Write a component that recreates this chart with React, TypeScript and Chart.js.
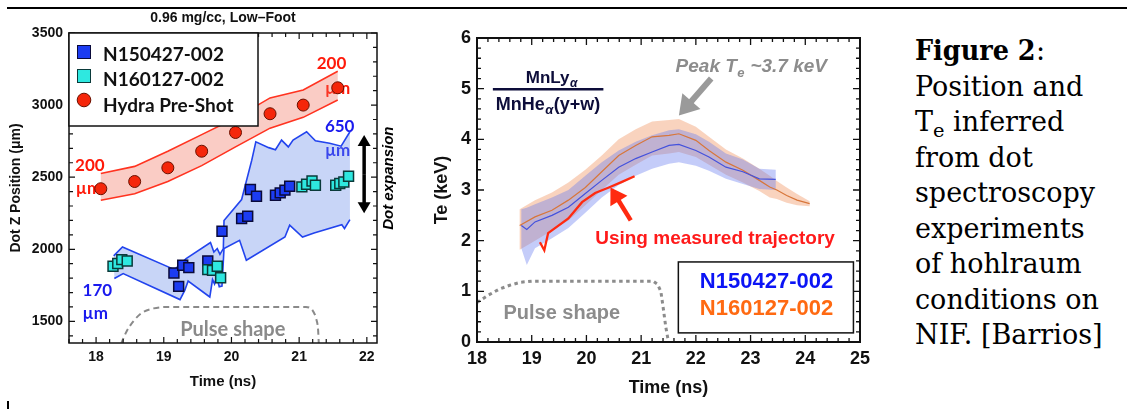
import React, { useEffect, useLayoutEffect, useRef } from "react";
import { Chart, registerables } from "chart.js";

Chart.register(...registerables);

const SANS = "'Liberation Sans', Arial, Helvetica, sans-serif";
const LATO = "Lato, 'Liberation Sans', sans-serif";
const INK = "#111111";

// ================= Left panel: Dot Z position vs time =================
const leftTimeTicks = [18, 19, 20, 21, 22];
const leftPosTicks = [1500, 2000, 2500, 3000, 3500];

// Hydra pre-shot prediction (red circles) with its band
const hydraTime = [18.07, 18.57, 19.06, 19.56, 20.06, 20.57, 21.06, 21.57];
const hydraPos = [2420, 2470, 2565, 2680, 2810, 2940, 3000, 3120];
const hydraUpper = [2525, 2575, 2680, 2795, 2910, 3050, 3105, 3235];
const hydraLower = [2340, 2385, 2470, 2580, 2710, 2840, 2915, 3035];

// N150427-002 (blue squares)
const shot150Time = [19.15, 19.22, 19.28, 19.37, 19.65, 19.86, 20.15, 20.24, 20.28, 20.37, 20.65, 20.72, 20.79, 20.86];
const shot150Pos = [1836, 1743, 1889, 1873, 1919, 2125, 2213, 2229, 2415, 2368, 2375, 2391, 2410, 2437];

// N160127-002 (cyan squares)
const shot160Time = [18.25, 18.32, 18.38, 18.46, 19.65, 19.72, 19.79, 19.84, 21.04, 21.11, 21.19, 21.24, 21.54, 21.6, 21.66, 21.73];
const shot160Pos = [1882, 1901, 1928, 1919, 1859, 1854, 1882, 1803, 2433, 2451, 2474, 2444, 2444, 2456, 2467, 2507];

// Measured envelope (blue band, 170 µm -> 650 µm)
const envUpperTime = [18.26, 18.39, 19.16, 19.33, 19.69, 19.74, 19.79, 19.83, 19.88, 19.89, 20.15, 20.3, 20.36, 20.55, 20.65, 20.74, 20.84, 20.91, 21.11, 21.24, 21.45, 21.62, 21.75];
const envUpperPos = [1954, 2016, 1859, 1935, 2047, 1981, 2005, 1965, 2005, 2200, 2345, 2618, 2745, 2705, 2690, 2757, 2710, 2757, 2815, 2752, 2735, 2715, 2815];
const envLowerTime = [18.27, 18.4, 19.24, 19.31, 19.36, 19.68, 19.72, 19.75, 19.78, 19.82, 19.86, 19.89, 20.12, 20.22, 20.79, 20.86, 21.05, 21.22, 21.63, 21.67, 21.75];
const envLowerPos = [1797, 1831, 1651, 1715, 1780, 1669, 1790, 1760, 1808, 1740, 1745, 2005, 2062, 1924, 2085, 2167, 2085, 2113, 2170, 2144, 2206];

// Laser pulse shape sketch (left)
const pulseLeftTime = [18.37, 18.45, 18.55, 18.68, 18.85, 19.05, 21.1, 21.2, 21.25, 21.28, 21.29];
const pulseLeftPos = [1345, 1430, 1500, 1560, 1590, 1600, 1600, 1575, 1520, 1440, 1345];

// ================= Right panel: Te vs time =================
const rightTimeTicks = [18, 19, 20, 21, 22, 23, 24, 25];
const rightTeTicks = [0, 1, 2, 3, 4, 5, 6];

const n150Time = [18.81, 18.91, 19.06, 19.37, 19.67, 19.98, 20.28, 20.59, 20.9, 21.2, 21.51, 21.69, 22.0, 22.24, 22.55, 22.86, 23.16, 23.46];
const n150Te = [2.3, 2.22, 2.37, 2.5, 2.66, 2.93, 3.19, 3.45, 3.62, 3.75, 3.88, 3.9, 3.78, 3.65, 3.45, 3.36, 3.22, 3.21];
const n150Lo = [1.85, 1.52, 1.85, 2.05, 2.25, 2.55, 2.85, 3.1, 3.28, 3.42, 3.52, 3.55, 3.48, 3.38, 3.22, 3.12, 3.02, 3.0];
const n150Hi = [2.62, 2.65, 2.72, 2.85, 3.0, 3.28, 3.55, 3.78, 3.95, 4.08, 4.18, 4.2, 4.1, 3.95, 3.72, 3.6, 3.42, 3.4];

const n160Time = [18.78, 19.06, 19.37, 19.67, 19.98, 20.28, 20.59, 20.9, 21.2, 21.51, 21.69, 22.0, 22.24, 22.55, 22.86, 23.16, 23.35, 23.48, 23.66, 23.85, 24.08];
const n160Te = [2.3, 2.47, 2.6, 2.8, 3.05, 3.36, 3.68, 3.88, 4.05, 4.08, 4.11, 3.98, 3.78, 3.55, 3.39, 3.19, 3.06, 3.0, 2.89, 2.8, 2.73];
const n160Lo = [1.82, 2.0, 2.2, 2.4, 2.7, 3.0, 3.3, 3.5, 3.68, 3.72, 3.75, 3.65, 3.5, 3.3, 3.15, 2.98, 2.85, 2.82, 2.75, 2.7, 2.68];
const n160Hi = [2.62, 2.8, 2.95, 3.15, 3.4, 3.68, 4.0, 4.2, 4.35, 4.38, 4.4, 4.25, 4.05, 3.8, 3.62, 3.42, 3.28, 3.18, 3.05, 2.92, 2.78];

// Te using measured trajectory (red)
const trajTime = [19.15, 19.23, 19.3, 19.67, 19.92, 20.16, 20.41, 20.65, 20.88];
const trajTe = [1.97, 1.81, 2.15, 2.44, 2.76, 2.94, 3.05, 3.16, 3.27];

// Laser pulse shape sketch (right)
const pulseRightTime = [18.0, 18.2, 18.4, 18.6, 18.8, 19.0, 21.22, 21.3, 21.36, 21.4, 21.45, 21.5];
const pulseRightTe = [0.78, 0.92, 1.04, 1.12, 1.18, 1.2, 1.2, 1.14, 1.0, 0.7, 0.3, 0.0];

// ================= helpers =================
const pts = (xs: number[], ys: number[]) => xs.map((x, i) => ({ x, y: ys[i] }));
const polygon = (ux: number[], uy: number[], lx: number[], ly: number[]) => [
  ...pts(ux, uy),
  ...pts(lx, ly).reverse(),
];

function arrow(ctx: CanvasRenderingContext2D, x1: number, y1: number, x2: number, y2: number, w: number, headLen: number, headW: number, color: string) {
  const dx = x2 - x1, dy = y2 - y1;
  const L = Math.hypot(dx, dy);
  const ux = dx / L, uy = dy / L;
  const bx = x2 - ux * headLen, by = y2 - uy * headLen;
  ctx.strokeStyle = color;
  ctx.fillStyle = color;
  ctx.lineWidth = w;
  ctx.lineCap = "butt";
  ctx.beginPath();
  ctx.moveTo(x1, y1);
  ctx.lineTo(bx + ux, by + uy);
  ctx.stroke();
  ctx.beginPath();
  ctx.moveTo(x2, y2);
  ctx.lineTo(bx - (uy * headW) / 2, by + (ux * headW) / 2);
  ctx.lineTo(bx + (uy * headW) / 2, by - (ux * headW) / 2);
  ctx.closePath();
  ctx.fill();
}

function subText(ctx: CanvasRenderingContext2D, main: string, sub: string, after: string, x: number, yBase: number, size: number, style: string, family: string, align: "left" | "center") {
  const mainFont = `${style} ${size}px ${family}`;
  const subFont = `italic bold ${Math.round(size * 0.7)}px ${family}`;
  ctx.font = mainFont;
  const w1 = ctx.measureText(main).width;
  const w3 = ctx.measureText(after).width;
  ctx.font = subFont;
  const w2 = ctx.measureText(sub).width;
  const sx = align === "center" ? x - (w1 + w2 + w3) / 2 : x;
  ctx.textAlign = "left";
  ctx.textBaseline = "alphabetic";
  ctx.font = mainFont;
  ctx.fillText(main, sx, yBase);
  ctx.font = subFont;
  ctx.fillText(sub, sx + w1 + 0.5, yBase + size * 0.22);
  ctx.font = mainFont;
  ctx.fillText(after, sx + w1 + w2 + 1, yBase);
}

function makeFramePlugin(o: { xStep: number; yStep: number; xMajor: number[]; yMajor: number[]; major: number; minor: number; tickWidth: number; frameWidth: number }) {
  return {
    id: "frameTicks",
    afterDatasetsDraw(chart: any) {
      const { ctx, chartArea: a, scales } = chart;
      const x = scales.x, y = scales.y;
      const isMaj = (list: number[], v: number) => list.some((m) => Math.abs(m - v) < 1e-6);
      ctx.save();
      ctx.strokeStyle = INK;
      ctx.lineWidth = o.tickWidth;
      ctx.beginPath();
      for (let k = Math.ceil(x.min / o.xStep - 1e-6); k * o.xStep <= x.max + 1e-6; k++) {
        const v = k * o.xStep;
        const px = x.getPixelForValue(v);
        const len = isMaj(o.xMajor, v) ? o.major : o.minor;
        ctx.moveTo(px, a.bottom);
        ctx.lineTo(px, a.bottom - len);
        ctx.moveTo(px, a.top);
        ctx.lineTo(px, a.top + len);
      }
      for (let k = Math.ceil(y.min / o.yStep - 1e-6); k * o.yStep <= y.max + 1e-6; k++) {
        const v = k * o.yStep;
        const py = y.getPixelForValue(v);
        const len = isMaj(o.yMajor, v) ? o.major : o.minor;
        ctx.moveTo(a.left, py);
        ctx.lineTo(a.left + len, py);
        ctx.moveTo(a.right, py);
        ctx.lineTo(a.right - len, py);
      }
      ctx.stroke();
      ctx.lineWidth = o.frameWidth;
      ctx.strokeRect(a.left, a.top, a.right - a.left, a.bottom - a.top);
      ctx.restore();
    },
  };
}

// annotation anchors in data coordinates
const redUnitLabels = [
  { text: "200", t: 17.69, v: 2578 },
  { text: "\u00b5m", t: 17.7, v: 2424 },
  { text: "200", t: 21.26, v: 3290 },
  { text: "\u00b5m", t: 21.38, v: 3116 },
];
const blueUnitLabels = [
  { text: "650", t: 21.38, v: 2849 },
  { text: "\u00b5m", t: 21.38, v: 2687 },
  { text: "170", t: 17.8, v: 1715 },
  { text: "\u00b5m", t: 17.8, v: 1553 },
];

const leftAnnotations = {
  id: "leftAnnotations",
  beforeDatasetsDraw(chart: any) {
    const { ctx, scales } = chart;
    const x = scales.x, y = scales.y;
    ctx.save();
    ctx.font = `bold 17px ${LATO}`;
    ctx.textAlign = "left";
    ctx.textBaseline = "middle";
    ctx.fillStyle = "#ff1a0a";
    for (const l of redUnitLabels) ctx.fillText(l.text, x.getPixelForValue(l.t), y.getPixelForValue(l.v));
    ctx.fillStyle = "#1a1aee";
    for (const l of blueUnitLabels) ctx.fillText(l.text, x.getPixelForValue(l.t), y.getPixelForValue(l.v));
    ctx.fillStyle = "#8a8a8a";
    ctx.textAlign = "center";
    ctx.font = `bold 20px ${LATO}`;
    ctx.fillText("Pulse shape", x.getPixelForValue(20.02), y.getPixelForValue(1444));
    ctx.restore();
  },
  afterDraw(chart: any) {
    const { ctx, chartArea: a, scales } = chart;
    const x = scales.x, y = scales.y;
    ctx.save();
    // title
    ctx.fillStyle = INK;
    ctx.font = `bold 14px ${SANS}`;
    ctx.textAlign = "center";
    ctx.textBaseline = "middle";
    ctx.fillText("0.96 mg/cc, Low\u2013Foot", (a.left + a.right) / 2, a.top - 15);
    // legend
    const lx = a.left, ly = a.top;
    ctx.fillStyle = "#ffffff";
    ctx.fillRect(lx, ly, 189, 93);
    ctx.strokeStyle = INK;
    ctx.lineWidth = 1.5;
    ctx.strokeRect(lx, ly, 189, 93);
    ctx.lineWidth = 1;
    ctx.fillStyle = "#1c3cf2";
    ctx.strokeStyle = "#0a0a3a";
    ctx.fillRect(lx + 8.5, ly + 12.5, 13, 13);
    ctx.strokeRect(lx + 8.5, ly + 12.5, 13, 13);
    ctx.fillStyle = "#2ee8e0";
    ctx.strokeStyle = "#0a3a3a";
    ctx.fillRect(lx + 8.5, ly + 36.5, 13, 13);
    ctx.strokeRect(lx + 8.5, ly + 36.5, 13, 13);
    ctx.fillStyle = "#f5260a";
    ctx.strokeStyle = "#6a1000";
    ctx.beginPath();
    ctx.arc(lx + 15, ly + 67, 6.8, 0, Math.PI * 2);
    ctx.fill();
    ctx.stroke();
    ctx.fillStyle = INK;
    ctx.font = `bold 19px ${LATO}`;
    ctx.textAlign = "left";
    ctx.textBaseline = "middle";
    ctx.fillText("N150427-002", lx + 34, ly + 22);
    ctx.fillText("N160127-002", lx + 34, ly + 47);
    ctx.fillText("Hydra Pre-Shot", lx + 34, ly + 73);
    // double arrow (dot expansion)
    const ax = x.getPixelForValue(21.96);
    const ay1 = y.getPixelForValue(2792);
    const ay2 = y.getPixelForValue(2250);
    const my = (ay1 + ay2) / 2;
    arrow(ctx, ax, my, ax, ay1, 3.5, 11, 13, "#000000");
    arrow(ctx, ax, my, ax, ay2, 3.5, 11, 13, "#000000");
    // Dot expansion label
    ctx.save();
    ctx.translate(x.getPixelForValue(22.32), y.getPixelForValue(2493));
    ctx.rotate(-Math.PI / 2);
    ctx.fillStyle = "#000000";
    ctx.font = `italic bold 15px ${SANS}`;
    ctx.textAlign = "center";
    ctx.textBaseline = "middle";
    ctx.fillText("Dot expansion", 0, 0);
    ctx.restore();
    ctx.restore();
  },
};

const rightAnnotations = {
  id: "rightAnnotations",
  afterDraw(chart: any) {
    const { ctx, scales } = chart;
    const x = scales.x, y = scales.y;
    ctx.save();
    // ratio label (baselines given in Te units)
    ctx.fillStyle = "#0d0d3a";
    subText(ctx, "MnLy", "\u03b1", "", x.getPixelForValue(19.36), y.getPixelForValue(5.11), 17, "bold", SANS, "center");
    ctx.strokeStyle = "#0d0d3a";
    ctx.lineWidth = 2.5;
    ctx.beginPath();
    ctx.moveTo(x.getPixelForValue(18.29), y.getPixelForValue(4.99));
    ctx.lineTo(x.getPixelForValue(20.31), y.getPixelForValue(4.99));
    ctx.stroke();
    subText(ctx, "MnHe", "\u03b1", "(y+w)", x.getPixelForValue(19.29), y.getPixelForValue(4.57), 18, "bold", SANS, "center");
    // peak label + arrow
    ctx.fillStyle = "#8c8c8c";
    subText(ctx, "Peak T", "e", " ~3.7 keV", x.getPixelForValue(21.63), y.getPixelForValue(5.46) + 7, 19, "italic bold", SANS, "left");
    arrow(ctx, x.getPixelForValue(22.28), y.getPixelForValue(5.2), x.getPixelForValue(21.69), y.getPixelForValue(4.47), 6, 19, 24, "#9a9a9a");
    // red arrow + label
    arrow(ctx, x.getPixelForValue(20.81), y.getPixelForValue(2.4), x.getPixelForValue(20.44), y.getPixelForValue(3.05), 4.5, 16, 20, "#ff2a10");
    ctx.fillStyle = "#ff1a1a";
    ctx.font = `bold 19px ${SANS}`;
    ctx.textAlign = "left";
    ctx.textBaseline = "middle";
    ctx.fillText("Using measured trajectory", x.getPixelForValue(20.16), y.getPixelForValue(2.04));
    // pulse shape label
    ctx.fillStyle = "#8c8c8c";
    ctx.font = `bold 20px ${SANS}`;
    ctx.textAlign = "center";
    ctx.fillText("Pulse shape", x.getPixelForValue(19.55), y.getPixelForValue(0.56));
    // legend box
    const bx1 = x.getPixelForValue(21.68), by1 = y.getPixelForValue(1.58);
    const bx2 = x.getPixelForValue(24.88), by2 = y.getPixelForValue(0.18);
    ctx.fillStyle = "#ffffff";
    ctx.fillRect(bx1, by1, bx2 - bx1, by2 - by1);
    ctx.strokeStyle = INK;
    ctx.lineWidth = 1.5;
    ctx.strokeRect(bx1, by1, bx2 - bx1, by2 - by1);
    ctx.font = `bold 22px ${SANS}`;
    ctx.textAlign = "right";
    ctx.fillStyle = "#0b14f5";
    ctx.fillText("N150427-002", x.getPixelForValue(24.51), y.getPixelForValue(1.18));
    ctx.fillStyle = "#ff6a12";
    ctx.fillText("N160127-002", x.getPixelForValue(24.51), y.getPixelForValue(0.66));
    ctx.restore();
  },
};

const lineDs = (data: any[], color: string, width: number, order: number, extra: any = {}) => ({
  data,
  showLine: true,
  borderColor: color,
  borderWidth: width,
  pointRadius: 0,
  fill: false,
  order,
  ...extra,
});

const bandDs = (data: any[], color: string, order: number) => ({
  data,
  showLine: true,
  borderColor: "rgba(0,0,0,0)",
  borderWidth: 1,
  backgroundColor: color,
  pointRadius: 0,
  fill: "shape",
  order,
});

function axisCommon(fontSize: number) {
  return {
    type: "linear" as const,
    grid: { display: false, drawTicks: false },
    border: { display: false },
    ticks: {
      padding: 6,
      color: INK,
      font: { family: SANS, size: fontSize, weight: "bold" as const },
      callback: (v: any) => String(v),
    },
  };
}

function leftConfig(): any {
  return {
    type: "scatter",
    data: {
      datasets: [
        bandDs(polygon(hydraTime, hydraUpper, hydraTime, hydraLower), "rgba(240,110,90,0.35)", 20),
        bandDs(polygon(envUpperTime, envUpperPos, envLowerTime, envLowerPos), "rgba(110,145,235,0.38)", 19),
        lineDs(pts(hydraTime, hydraUpper), "#ff3320", 1.6, 10),
        lineDs(pts(hydraTime, hydraLower), "#ff3320", 1.6, 10),
        lineDs(pts(envUpperTime, envUpperPos), "#2244ee", 1.6, 10),
        lineDs(pts(envLowerTime, envLowerPos), "#2244ee", 1.6, 10),
        lineDs(pts(pulseLeftTime, pulseLeftPos), "#8a8a8a", 2, 11, { borderDash: [6, 4], cubicInterpolationMode: "monotone" }),
        {
          data: pts(shot150Time, shot150Pos),
          pointStyle: "rect",
          pointRadius: 7,
          backgroundColor: "#1c3cf2",
          borderColor: "#0a0a3a",
          borderWidth: 1.5,
          order: 3,
        },
        {
          data: pts(shot160Time, shot160Pos),
          pointStyle: "rect",
          pointRadius: 7,
          backgroundColor: "#2ee8e0",
          borderColor: "#0a3a3a",
          borderWidth: 1.5,
          order: 2,
        },
        {
          data: pts(hydraTime, hydraPos),
          pointStyle: "circle",
          pointRadius: 6,
          backgroundColor: "#f5260a",
          borderColor: "#6a1000",
          borderWidth: 1,
          order: 1,
        },
      ],
    },
    options: {
      responsive: false,
      animation: false,
      events: [],
      layout: { padding: { left: 0, top: 33, right: 23, bottom: 0 } },
      plugins: { legend: { display: false }, tooltip: { enabled: false } },
      scales: {
        x: {
          ...axisCommon(14),
          min: 17.6,
          max: 22.15,
          afterBuildTicks: (s: any) => {
            s.ticks = leftTimeTicks.map((v) => ({ value: v }));
          },
          afterFit: (s: any) => {
            s.height = 66;
          },
          title: { display: true, text: "Time (ns)", color: INK, font: { family: SANS, size: 15, weight: "bold" }, padding: { top: 0, bottom: 18 } },
        },
        y: {
          ...axisCommon(14),
          min: 1350,
          max: 3500,
          afterBuildTicks: (s: any) => {
            s.ticks = leftPosTicks.map((v) => ({ value: v }));
          },
          afterFit: (s: any) => {
            s.width = 69;
          },
          title: { display: true, text: "Dot Z Position (\u03bcm)", color: INK, font: { family: SANS, size: 14, weight: "bold" }, padding: { top: 8, bottom: 0 } },
        },
      },
    },
    plugins: [
      makeFramePlugin({ xStep: 0.2, yStep: 100, xMajor: leftTimeTicks, yMajor: leftPosTicks, major: 6, minor: 4, tickWidth: 1.2, frameWidth: 1.5 }),
      leftAnnotations,
    ],
  };
}

function rightConfig(): any {
  return {
    type: "scatter",
    data: {
      datasets: [
        bandDs(polygon(n160Time, n160Hi, n160Time, n160Lo), "rgba(240,150,100,0.42)", 21),
        bandDs(polygon(n150Time, n150Hi, n150Time, n150Lo), "rgba(100,120,240,0.38)", 20),
        lineDs(pts(n160Time, n160Te), "#d8763a", 1.2, 10),
        lineDs(pts(n150Time, n150Te), "#4452dd", 1.2, 9),
        lineDs(pts(trajTime, trajTe), "#ff2a10", 2.3, 5),
        lineDs(pts(pulseRightTime, pulseRightTe), "#8c8c8c", 3, 12, { borderDash: [3.5, 3.5] }),
      ],
    },
    options: {
      responsive: false,
      animation: false,
      events: [],
      layout: { padding: { left: 0, top: 38, right: 20, bottom: 0 } },
      plugins: { legend: { display: false }, tooltip: { enabled: false } },
      scales: {
        x: {
          ...axisCommon(18),
          min: 18,
          max: 25,
          afterBuildTicks: (s: any) => {
            s.ticks = rightTimeTicks.map((v) => ({ value: v }));
          },
          afterFit: (s: any) => {
            s.height = 67;
          },
          title: { display: true, text: "Time (ns)", color: INK, font: { family: SANS, size: 18, weight: "bold" }, padding: { top: 0, bottom: 10 } },
        },
        y: {
          ...axisCommon(18),
          min: 0,
          max: 6,
          afterBuildTicks: (s: any) => {
            s.ticks = rightTeTicks.map((v) => ({ value: v }));
          },
          afterFit: (s: any) => {
            s.width = 77;
          },
          title: { display: true, text: "Te (keV)", color: INK, font: { family: SANS, size: 18, weight: "bold" }, padding: { top: 31, bottom: 0 } },
        },
      },
    },
    plugins: [
      makeFramePlugin({ xStep: 0.2, yStep: 0.2, xMajor: rightTimeTicks, yMajor: rightTeTicks, major: 7, minor: 4, tickWidth: 1.3, frameWidth: 2 }),
      rightAnnotations,
    ],
  };
}

function ChartCanvas({ build, left, width }: { build: () => any; left: number; width: number }) {
  const ref = useRef<HTMLCanvasElement | null>(null);
  useEffect(() => {
    if (!ref.current) return;
    const chart = new Chart(ref.current, build());
    return () => chart.destroy();
  }, [build]);
  return (
    <canvas
      ref={ref}
      width={width}
      height={409}
      style={{ position: "absolute", left, top: 0, width, height: 409 }}
    />
  );
}

const captionStyle: React.CSSProperties = {
  position: "absolute",
  left: 915,
  top: 33,
  fontFamily: "'DejaVu Serif', 'Liberation Serif', serif",
  fontSize: 27,
  lineHeight: "35.5px",
  color: "#000",
  whiteSpace: "nowrap",
};

const FIGURE_LABEL_WIDTH = 121;

function FigureLabel() {
  const ref = useRef<HTMLElement | null>(null);
  useLayoutEffect(() => {
    const el = ref.current;
    if (!el) return;
    const natural = el.offsetWidth;
    if (natural > 0) el.style.transform = `scaleX(${FIGURE_LABEL_WIDTH / natural})`;
  }, []);
  return (
    <span style={{ display: "inline-block", width: FIGURE_LABEL_WIDTH, verticalAlign: "top", whiteSpace: "nowrap" }}>
      <b ref={ref as any} style={{ display: "inline-block", transformOrigin: "left center" }}>
        Figure 2
      </b>
    </span>
  );
}

export default function App() {
  return (
    <div style={{ position: "absolute", left: 0, top: 0, width: 1127, height: 409, background: "#fff", overflow: "hidden" }}>
      <div style={{ position: "absolute", left: 7, top: 7, width: 1120, height: 2, background: "#000" }} />
      <div style={{ position: "absolute", left: 7, top: 401, width: 2, height: 8, background: "#000" }} />
      <ChartCanvas build={leftConfig} left={0} width={400} />
      <ChartCanvas build={rightConfig} left={400} width={480} />
      <div style={captionStyle}>
        <div>
          <FigureLabel />:
        </div>
        <div>Position and</div>
        <div>
          T<span style={{ fontSize: "0.72em", verticalAlign: "-0.32em", lineHeight: 0 }}>e</span> inferred
        </div>
        <div>from dot</div>
        <div>spectroscopy</div>
        <div>experiments</div>
        <div>of hohlraum</div>
        <div>conditions on</div>
        <div>NIF. [Barrios]</div>
      </div>
    </div>
  );
}
